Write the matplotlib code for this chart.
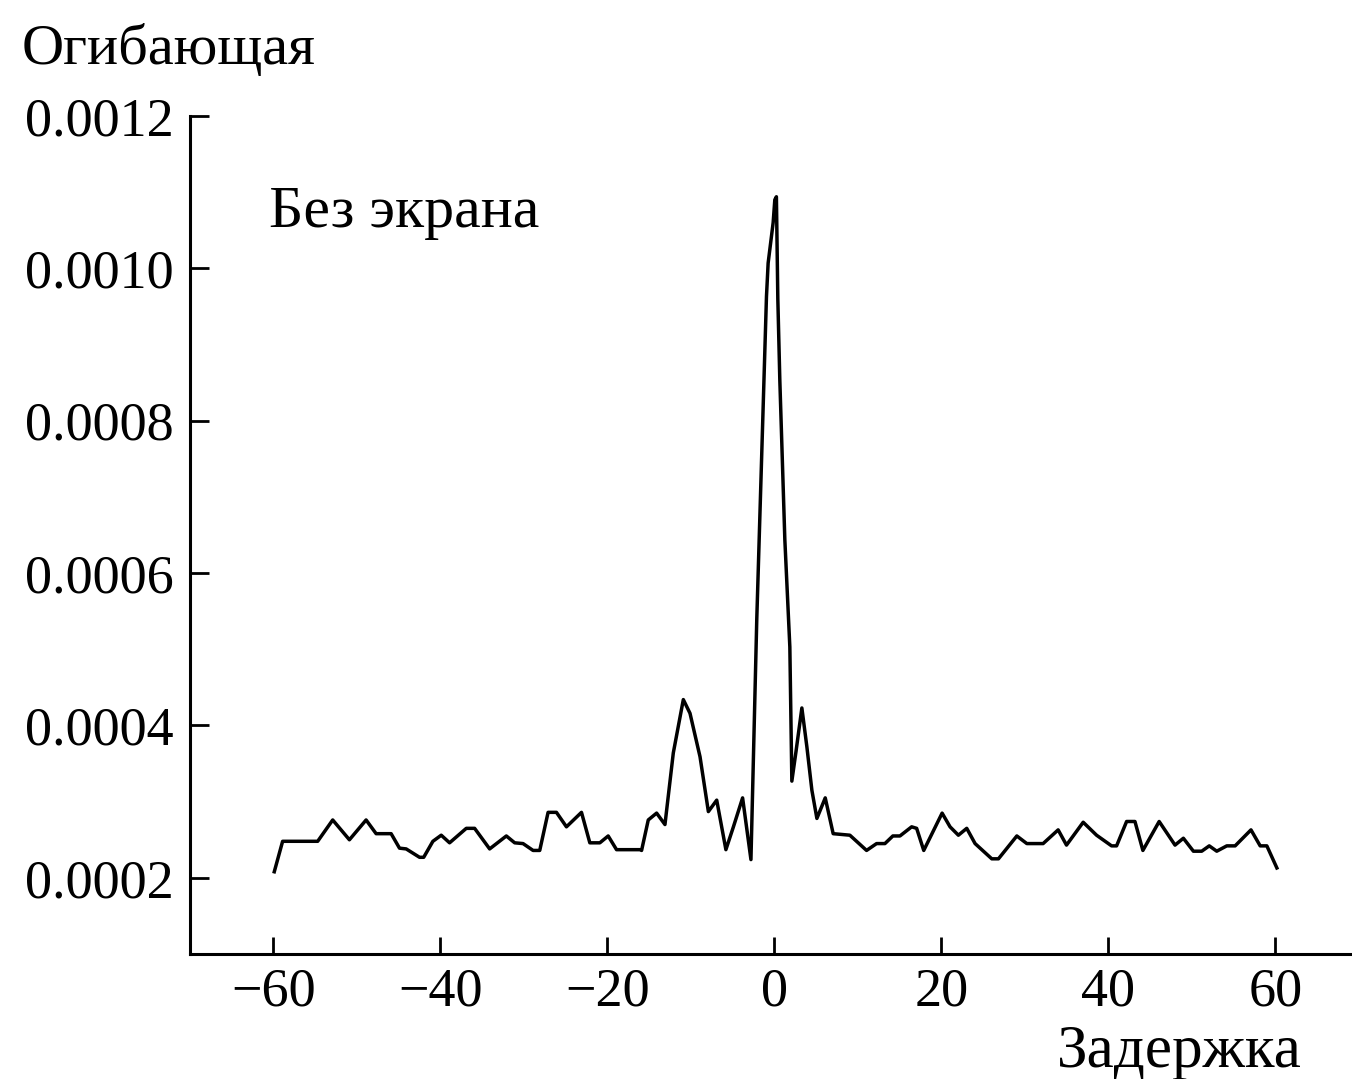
import matplotlib.pyplot as plt
import numpy as np

plt.rcParams['font.family'] = ['Liberation Serif', 'DejaVu Serif']

# задержка / огибающая (x1e-4)
zaderzhka = [-59.9, -58.9, -54.7, -52.9, -50.9, -48.9, -47.7, -45.9, -44.9, -44.1,
             -42.5, -42.0, -40.9, -39.9, -38.9, -36.9, -35.9, -34.1, -32.1, -31.1,
             -30.1, -28.9, -28.1, -27.1, -26.1, -24.9, -23.1, -22.1, -20.9, -19.9,
             -18.9, -16.1, -15.9, -15.1, -14.1, -13.1, -12.1, -10.9, -10.1, -8.9,
             -7.9, -6.9, -5.8, -4.9, -3.8, -2.8, -2.1, -0.94, -0.74, -0.14,
             0.06, 0.25, 0.42, 0.66, 1.26, 1.86, 2.1, 2.6, 3.3, 3.9,
             4.5, 5.1, 6.1, 7.05, 9.05, 11.05, 12.25, 13.25, 14.2, 15.05,
             16.45, 17.05, 17.9, 20.1, 21.05, 22.05, 23.05, 24.05, 26.05, 26.85,
             29.05, 30.25, 32.2, 34.0, 35.0, 37.0, 38.6, 40.4, 41.0, 42.2,
             43.2, 44.15, 46.1, 48.0, 49.0, 50.2, 51.2, 52.1, 53.0, 54.2,
             55.2, 57.1, 58.2, 59.0, 60.2]
ogib = [2.08, 2.48, 2.48, 2.76, 2.50, 2.76, 2.58, 2.58, 2.39, 2.38,
        2.27, 2.27, 2.48, 2.56, 2.46, 2.65, 2.65, 2.38, 2.55, 2.46,
        2.45, 2.36, 2.36, 2.86, 2.86, 2.67, 2.86, 2.46, 2.46, 2.55,
        2.37, 2.37, 2.36, 2.76, 2.85, 2.70, 3.64, 4.34, 4.16, 3.59,
        2.87, 3.02, 2.37, 2.67, 3.05, 2.24, 5.40, 9.63, 10.07, 10.60,
        10.90, 10.94, 9.60, 8.53, 6.44, 5.03, 3.27, 3.66, 4.23, 3.72,
        3.15, 2.78, 3.05, 2.58, 2.56, 2.36, 2.45, 2.45, 2.55, 2.55,
        2.67, 2.65, 2.36, 2.85, 2.67, 2.56, 2.65, 2.45, 2.25, 2.25,
        2.55, 2.45, 2.45, 2.63, 2.43, 2.73, 2.56, 2.42, 2.42, 2.74,
        2.74, 2.36, 2.74, 2.43, 2.52, 2.35, 2.35, 2.42, 2.35, 2.42,
        2.42, 2.63, 2.42, 2.42, 2.13]
ogib = np.array(ogib) * 1e-4

xticks = [-60, -40, -20, 0, 20, 40, 60]
yticks = [0.0002, 0.0004, 0.0006, 0.0008, 0.0010, 0.0012]

fig = plt.figure(figsize=(13.52, 10.79), dpi=100)
ax = fig.add_axes([0.1405, 0.1158, 0.8595, 0.7767])
ax.plot(zaderzhka, ogib, color='black', lw=2.5)

ax.set_xlim(-70, 69.2)
ax.set_ylim(0.0001, 0.0012)
ax.set_xticks(xticks)
ax.set_yticks(yticks)
ax.set_xticklabels([str(t).replace('-', '\u2212') for t in xticks])
ax.set_yticklabels(['%.4f' % t for t in yticks])
ax.spines['top'].set_visible(False)
ax.spines['right'].set_visible(False)
for s in ['left', 'bottom']:
    ax.spines[s].set_linewidth(2.2)
ax.tick_params(axis='y', direction='in', length=14, width=2, labelsize=39, pad=12)
ax.tick_params(axis='x', direction='in', length=12, width=2, labelsize=39, pad=9)

ax.text(-60.5, 0.001073, 'Без экрана', fontsize=43, ha='left', va='center')
fig.text(22 / 1352, 1 - 50 / 1079, 'Огибающая', fontsize=42, ha='left', va='center')
fig.text(1302 / 1352, 1 - 1052 / 1079, 'Задержка', fontsize=44, ha='right', va='center')

plt.savefig('out.png', dpi=100)
